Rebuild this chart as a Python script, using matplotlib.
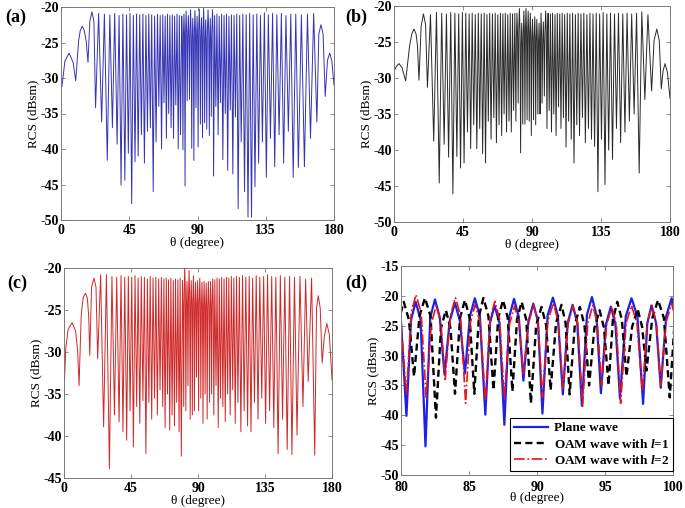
import numpy as np
import matplotlib
matplotlib.use("Agg")
import matplotlib.pyplot as plt

plt.rcParams["font.family"] = ["Liberation Serif", "DejaVu Serif"]
plt.rcParams["axes.unicode_minus"] = False
plt.rcParams["mathtext.fontset"] = "custom"
plt.rcParams["mathtext.it"] = "Liberation Serif:italic:bold"
plt.rcParams["mathtext.rm"] = "Liberation Serif:bold"

# ---- plane wave (panel a, blue in d): lobe minima / maxima
plane_trough_deg = [0.6, 9.7, 17.8, 22.8, 26.8, 30.5, 33.9, 37.0, 39.6, 42.1,
                    44.4, 46.6, 48.8, 50.9, 53.0, 55.0, 57.0, 58.9, 60.8, 62.7,
                    64.5, 66.3, 67.9, 69.5, 71.0, 72.6, 74.2, 75.7, 77.3, 78.8,
                    80.4, 81.8, 83.2, 84.7, 86.2, 87.6, 89.0, 90.4, 91.9, 93.3,
                    94.7, 96.1, 97.8, 99.1, 100.6, 102.1, 103.6, 105.1, 106.7, 108.3,
                    109.9, 111.6, 113.3, 115.0, 116.8, 118.8, 121.0, 123.3, 125.6, 127.9,
                    130.3, 132.8, 135.4, 138.1, 140.9, 143.8, 146.8, 149.9, 153.1, 156.5,
                    160.5, 164.5, 168.7, 174.2]
plane_trough_db = [-31.2, -30.4, -27.8, -34.2, -36.2, -41.6, -37.0, -39.3, -45.1, -44.4,
                   -40.6, -47.7, -41.8, -41.0, -38.0, -42.0, -37.5, -37.0, -46.0, -39.0,
                   -34.0, -40.0, -33.5, -38.5, -35.0, -37.0, -38.5, -33.8, -40.0, -38.0,
                   -40.1, -45.2, -33.2, -33.0, -39.9, -41.6, -34.2, -39.7, -36.5, -38.4,
                   -36.3, -37.2, -38.1, -35.4, -43.8, -34.0, -38.0, -33.5, -41.5, -35.0,
                   -43.0, -34.5, -43.5, -35.5, -48.4, -39.0, -46.0, -49.6, -49.6, -45.3,
                   -42.0, -39.0, -44.0, -38.5, -42.5, -38.0, -42.0, -37.5, -44.0, -42.6,
                   -42.5, -38.5, -36.2, -32.6]
plane_peak_deg = [0.0, 5.3, 14.0, 20.4, 24.8, 28.6, 32.2, 35.4, 38.3, 40.8,
                  43.2, 45.5, 47.7, 49.8, 51.9, 54.0, 56.0, 57.9, 59.8, 61.7,
                  63.6, 65.4, 67.1, 68.7, 70.2, 71.8, 73.4, 74.9, 76.5, 78.0,
                  79.6, 81.08, 82.5, 83.97, 85.43, 86.88, 88.31, 89.73, 91.17, 92.62,
                  94.04, 95.43, 96.95, 98.42, 99.9, 101.3, 102.8, 104.3, 105.9, 107.5,
                  109.1, 110.7, 112.4, 114.1, 115.9, 117.8, 119.9, 122.1, 124.4, 126.7,
                  129.1, 131.5, 134.1, 136.7, 139.5, 142.3, 145.3, 148.3, 151.5, 154.8,
                  158.5, 162.5, 166.6, 171.4, 177.2, 180.0]
plane_peak_db = [-30.8, -26.5, -22.7, -20.7, -20.9, -21.0, -21.1, -20.9, -21.2, -21.0,
                 -21.1, -20.9, -21.2, -21.0, -21.1, -21.0, -21.2, -21.0, -21.1, -21.3,
                 -21.0, -21.2, -21.1, -21.3, -21.0, -21.2, -21.1, -21.3, -21.0, -21.2,
                 -21.3, -21.0, -20.6, -21.2, -20.4, -21.6, -20.5, -21.3, -20.3, -21.5,
                 -20.2, -21.8, -20.4, -21.6, -20.4, -21.2, -21.0, -21.3, -21.0, -21.2,
                 -21.0, -21.3, -21.1, -21.2, -21.0, -21.2, -21.0, -21.1, -20.9, -21.1,
                 -21.0, -21.2, -20.8, -21.1, -20.9, -21.1, -20.9, -21.2, -21.0, -21.0,
                 -21.1, -21.0, -20.9, -22.5, -26.5, -31.0]
# flank points of the wide edge lobes and of the lobes inside the 80-100 window
plane_flank_deg = [2.6, 8.0, 11.6, 12.7, 15.3, 16.6, 19.0, 21.7, 170.0, 172.8, 175.7, 178.6,
                   80.0, 80.74, 81.44, 82.15, 82.85, 83.58, 84.33, 85.07, 85.8, 86.54,
                   87.24, 87.96, 88.66, 89.37, 90.07, 90.78, 91.53, 92.26, 92.96, 93.67,
                   94.37, 95.07, 95.77, 96.53, 97.38, 98.11, 98.76, 99.5, 100.25]
plane_flank_db = [-27.6, -27.8, -24.8, -23.3, -23.3, -24.8, -22.0, -22.0, -23.8, -23.8, -27.5, -27.6,
                  -24.3, -24.0, -24.0, -23.6, -23.6, -24.2, -24.2, -23.4, -23.4, -24.6,
                  -24.6, -23.5, -23.5, -24.3, -24.3, -23.3, -23.3, -24.5, -24.5, -23.2,
                  -23.2, -24.8, -24.8, -23.4, -23.4, -24.6, -24.6, -23.4, -23.4]

# ---- OAM wave l = 1 (panel b, black dashed in d)
oam1_trough_deg = [7.6, 16.3, 21.8, 25.9, 29.5, 32.7, 35.6, 38.4, 41.0, 43.4,
                   45.7, 47.9, 50.0, 52.0, 54.0, 55.9, 57.8, 59.7, 61.5, 63.3,
                   65.1, 66.8, 68.5, 70.2, 71.8, 73.4, 75.0, 76.5, 78.0, 79.5,
                   80.96, 82.57, 83.97, 85.39, 86.8, 88.19, 89.55, 91.0, 92.4, 93.83,
                   95.26, 96.58, 98.05, 99.76, 101.2, 102.7, 104.2, 105.7, 107.3, 108.9,
                   110.5, 112.2, 113.9, 115.6, 117.4, 119.2, 121.0, 122.9, 124.8, 126.8,
                   128.8, 130.8, 133.0, 135.3, 137.6, 140.0, 142.5, 145.1, 147.8, 150.6,
                   153.5, 156.6, 159.9, 163.6, 168.0, 174.3]
oam1_trough_db = [-30.4, -30.3, -31.3, -38.8, -44.6, -39.2, -41.0, -46.1, -40.9, -42.5,
                  -41.8, -37.5, -39.8, -36.5, -39.8, -37.0, -40.5, -41.8, -36.0, -38.5,
                  -35.5, -39.0, -36.5, -38.0, -35.0, -37.5, -36.0, -37.5, -34.5, -36.0,
                  -33.5, -40.4, -36.4, -36.4, -35.8, -36.0, -38.0, -35.8, -36.5, -35.0,
                  -35.0, -33.5, -32.5, -37.0, -34.5, -37.5, -35.0, -38.0, -34.0, -37.0,
                  -35.5, -39.6, -36.0, -38.5, -41.8, -36.5, -38.0, -35.5, -39.0, -37.0,
                  -38.5, -39.5, -45.8, -38.5, -44.8, -40.0, -41.3, -37.0, -39.0, -37.5,
                  -36.0, -35.0, -43.2, -33.0, -31.8, -31.5]
oam1_peak_deg = [0.0, 3.3, 13.0, 19.2, 23.8, 27.7, 31.1, 34.2, 37.0, 39.7,
                 42.2, 44.6, 46.8, 49.0, 51.0, 53.0, 55.0, 56.9, 58.8, 60.6,
                 62.4, 64.2, 66.0, 67.7, 69.4, 71.0, 72.6, 74.2, 75.8, 77.3,
                 78.8, 80.2, 81.76, 83.3, 84.7, 86.06, 87.5, 88.87, 90.33, 91.8,
                 93.15, 94.6, 95.9, 97.4, 98.9, 100.5, 102.0, 103.4, 105.0, 106.5,
                 108.1, 109.7, 111.3, 113.0, 114.7, 116.5, 118.3, 120.1, 121.9, 123.8,
                 125.8, 127.8, 129.8, 131.9, 134.1, 136.4, 138.8, 141.2, 143.8, 146.4,
                 149.2, 152.0, 155.0, 158.2, 161.6, 165.6, 171.4, 176.8, 180.0]
oam1_peak_db = [-29.1, -28.0, -23.2, -21.1, -21.2, -20.9, -21.0, -21.1, -20.9, -21.0,
                -21.1, -20.9, -21.0, -21.1, -21.0, -21.2, -21.0, -21.1, -21.0, -21.2,
                -21.0, -21.1, -21.0, -21.2, -21.0, -21.1, -21.0, -21.2, -21.0, -21.1,
                -21.0, -21.0, -20.35, -22.4, -20.7, -20.35, -20.7, -21.0, -21.85, -21.5,
                -21.85, -22.4, -21.0, -22.2, -20.7, -21.0, -21.1, -21.0, -21.2, -21.0,
                -21.1, -21.0, -21.2, -21.0, -21.1, -21.0, -21.2, -21.0, -21.1, -21.0,
                -21.2, -21.0, -21.1, -21.0, -21.1, -20.9, -21.1, -21.0, -21.1, -21.0,
                -21.1, -21.0, -21.1, -21.0, -20.8, -21.2, -23.2, -28.0, -32.8]
oam1_flank_deg = [1.5, 5.3, 10.2, 11.6, 14.4, 15.3, 17.7, 20.6, 169.6, 173.0, 175.5, 178.3,
                  79.85, 80.58, 81.36, 82.17, 82.94, 83.64, 84.34, 85.05, 85.73, 86.43,
                  87.15, 87.85, 88.53, 89.21, 89.94, 90.67, 91.4, 92.1, 92.78, 93.49,
                  94.22, 94.93, 95.58, 96.24, 96.99, 97.73, 98.48, 99.33, 100.13]
oam1_flank_db = [-28.4, -28.6, -25.5, -23.9, -23.9, -25.5, -22.8, -22.6, -24.8, -24.8, -29.0, -29.2,
                 -24.0, -24.0, -23.4, -23.4, -25.4, -25.4, -23.7, -23.7, -23.4, -23.4,
                 -23.7, -23.7, -24.0, -24.0, -24.9, -24.9, -24.5, -24.5, -24.9, -24.9,
                 -25.4, -25.4, -24.0, -24.0, -25.2, -25.2, -23.7, -23.7, -24.0]

# ---- OAM wave l = 2 (panel c, red dash-dot in d)
oam2_trough_deg = [0.0, 10.1, 17.3, 22.6, 26.6, 30.5, 33.9, 37.0, 39.6, 42.1,
                   44.4, 46.6, 48.8, 50.9, 53.0, 55.0, 57.0, 58.9, 60.8, 62.7,
                   64.5, 66.3, 67.9, 69.5, 71.0, 72.6, 74.2, 75.7, 77.3, 78.8,
                   80.4, 81.85, 83.25, 84.75, 86.2, 87.6, 89.0, 90.4, 91.9, 93.35,
                   94.75, 96.15, 97.75, 99.1, 100.6, 102.1, 103.6, 105.1, 106.7, 108.3,
                   109.9, 111.6, 113.3, 115.0, 116.8, 118.8, 121.0, 123.3, 125.6, 127.9,
                   130.3, 132.8, 135.4, 138.1, 140.9, 143.8, 146.8, 149.9, 153.1, 156.5,
                   160.5, 164.0, 168.4, 173.4, 180.0]
oam2_trough_db = [-35.1, -34.0, -30.4, -30.8, -38.9, -43.9, -37.5, -38.3, -39.5, -40.5,
                  -37.0, -41.3, -36.5, -38.5, -35.8, -42.1, -36.0, -38.0, -35.5, -37.5,
                  -34.5, -36.5, -39.0, -35.0, -39.3, -37.5, -38.8, -36.0, -39.5, -42.4,
                  -36.5, -37.0, -34.0, -38.0, -37.5, -37.0, -33.0, -37.0, -35.5, -38.5,
                  -35.0, -38.0, -36.0, -35.0, -37.5, -34.0, -39.0, -35.5, -36.5, -38.3,
                  -35.0, -37.5, -34.5, -38.5, -36.0, -39.5, -37.0, -38.8, -39.5, -36.0,
                  -38.0, -35.5, -38.5, -37.0, -39.0, -42.1, -38.0, -41.6, -42.2, -39.9,
                  -36.5, -33.5, -42.3, -31.3, -33.3]
oam2_peak_deg = [5.4, 14.4, 20.1, 24.6, 28.5, 32.2, 35.4, 38.3, 40.8, 43.2,
                 45.5, 47.7, 49.8, 51.9, 54.0, 56.0, 57.9, 59.8, 61.7, 63.6,
                 65.4, 67.1, 68.7, 70.2, 71.8, 73.4, 74.9, 76.5, 78.0, 79.6,
                 81.1, 82.6, 84.0, 85.45, 86.9, 88.35, 89.75, 91.2, 92.65, 94.1,
                 95.5, 96.95, 98.45, 99.9, 101.3, 102.8, 104.3, 105.9, 107.5, 109.1,
                 110.7, 112.4, 114.1, 115.9, 117.8, 119.9, 122.1, 124.4, 126.7, 129.1,
                 131.5, 134.1, 136.7, 139.5, 142.3, 145.3, 148.3, 151.5, 154.8, 158.5,
                 162.3, 166.3, 170.8, 176.5]
oam2_peak_db = [-26.5, -23.0, -21.2, -20.8, -20.8, -21.0, -21.1, -20.9, -21.1, -21.0,
                -21.1, -20.9, -21.2, -21.0, -21.1, -21.3, -21.0, -21.2, -21.1, -21.3,
                -21.1, -21.3, -21.2, -21.4, -21.2, -21.5, -21.3, -21.4, -21.2, -21.5,
                -19.8, -21.6, -20.3, -21.5, -20.9, -21.7, -21.5, -21.2, -21.7, -21.6,
                -21.8, -21.6, -21.6, -21.3, -21.4, -21.2, -21.3, -21.1, -21.3, -21.1,
                -21.2, -21.0, -21.2, -21.0, -21.1, -20.9, -21.1, -21.0, -21.2, -20.9,
                -21.1, -21.0, -20.8, -21.0, -21.1, -20.9, -21.1, -21.0, -21.1, -21.0,
                -21.3, -21.2, -23.3, -26.6]
oam2_flank_deg = [1.2, 2.8, 7.8, 9.2, 11.6, 12.9, 15.7, 16.6, 18.5, 21.5, 169.6, 172.1, 174.8, 178.2,
                  80.0, 80.75, 81.48, 82.23, 82.93, 83.63, 84.38, 85.1, 85.83, 86.55,
                  87.25, 87.98, 88.68, 89.38, 90.08, 90.8, 91.55, 92.28, 93.0, 93.73,
                  94.43, 95.13, 95.83, 96.55, 97.35, 98.1, 98.78, 99.5, 100.25]
oam2_flank_db = [-29.5, -27.3, -27.5, -30.0, -25.5, -23.5, -23.6, -25.8, -22.3, -22.3, -24.8, -24.8, -28.2, -27.9,
                 -24.5, -22.8, -22.8, -24.6, -24.6, -23.3, -23.3, -24.5, -24.5, -23.9,
                 -23.9, -24.7, -24.7, -24.5, -24.5, -24.2, -24.2, -24.7, -24.7, -24.6,
                 -24.6, -24.8, -24.8, -24.6, -24.6, -24.6, -24.6, -24.3, -24.3]

legend_labels = ["Plane wave", "OAM wave with $l$=1", "OAM wave with $l$=2"]
panel_tags = ["(a)", "(b)", "(c)", "(d)"]


def merge(*pairs):
    deg = np.concatenate([np.asarray(p[0], float) for p in pairs])
    db = np.concatenate([np.asarray(p[1], float) for p in pairs])
    order = np.argsort(deg, kind="stable")
    return deg[order], db[order]


plane = merge((plane_trough_deg, plane_trough_db), (plane_peak_deg, plane_peak_db),
              (plane_flank_deg, plane_flank_db))
oam1 = merge((oam1_trough_deg, oam1_trough_db), (oam1_peak_deg, oam1_peak_db),
             (oam1_flank_deg, oam1_flank_db))
oam2 = merge((oam2_trough_deg, oam2_trough_db), (oam2_peak_deg, oam2_peak_db),
             (oam2_flank_deg, oam2_flank_db))

FRAME = "#7a7a7a"


def style(ax, xlim, ylim, xticks, yticks, xpad=3, xlabelpad=0):
    ax.set_xlim(*xlim)
    ax.set_ylim(*ylim)
    ax.set_xticks(xticks)
    ax.set_yticks(yticks)
    ax.tick_params(direction="in", top=True, right=True, length=3, width=0.6,
                   color=FRAME, labelsize=10)
    ax.tick_params(axis="x", pad=xpad)
    ax.tick_params(axis="y", pad=1.5)
    for lab in ax.get_xticklabels() + ax.get_yticklabels():
        lab.set_fontweight("bold")
    for s in ax.spines.values():
        s.set_color(FRAME)
        s.set_linewidth(0.7)
    ax.set_xlabel("θ (degree)", fontsize=9.5, labelpad=xlabelpad)
    ax.set_ylabel("RCS (dBsm)", fontsize=9.5, labelpad=1)


W, H = 685, 508
fig = plt.figure(figsize=(W / 100, H / 100), dpi=100)


def rect(x0, y0, x1, y1):
    return [x0 / W, 1 - y1 / H, (x1 - x0) / W, (y1 - y0) / H]


ax_a = fig.add_axes(rect(61, 7, 334, 220))
ax_b = fig.add_axes(rect(394, 6, 670, 222))
ax_c = fig.add_axes(rect(64, 268, 332, 478))
ax_d = fig.add_axes(rect(401, 266, 673, 475))

ax_a.plot(*plane, color="#3434b4", lw=0.7)
style(ax_a, (0, 180), (-50, -20), [0, 45, 90, 135, 180], range(-50, -19, 5))

ax_b.plot(*oam1, color="#2a2a2a", lw=0.7)
style(ax_b, (0, 180), (-50, -20), [0, 45, 90, 135, 180], range(-50, -19, 5))

ax_c.plot(*oam2, color="#d02828", lw=0.7)
style(ax_c, (0, 180), (-45, -20), [0, 45, 90, 135, 180], range(-45, -19, 5))

ax_d.plot(*plane, color="#1f1fe6", lw=1.6, label=legend_labels[0])
ax_d.plot(*oam1, color="black", lw=1.7, ls=(0, (3, 1.8)), label=legend_labels[1])
ax_d.plot(*oam2, color="#e81515", lw=1.2, ls="-.", label=legend_labels[2])
style(ax_d, (80, 100), (-50, -15), [80, 85, 90, 95, 100], range(-50, -14, 5),
      xpad=4, xlabelpad=-1)
leg = ax_d.legend(loc="lower right", bbox_to_anchor=(1.0, 0.02), borderaxespad=0,
                  fancybox=False, framealpha=1, edgecolor="black", handlelength=2.6,
                  prop={"weight": "bold", "size": 9.5}, borderpad=0.3,
                  labelspacing=0.25, handletextpad=0.4)
leg.get_frame().set_linewidth(0.8)

for tag, (px, py) in zip(panel_tags, [(16, 17), (356, 17), (17, 283), (356, 283)]):
    fig.text(px / W, 1 - py / H, tag, fontsize=13, fontweight="bold",
             ha="center", va="center")

fig.savefig("out.png", dpi=100)
